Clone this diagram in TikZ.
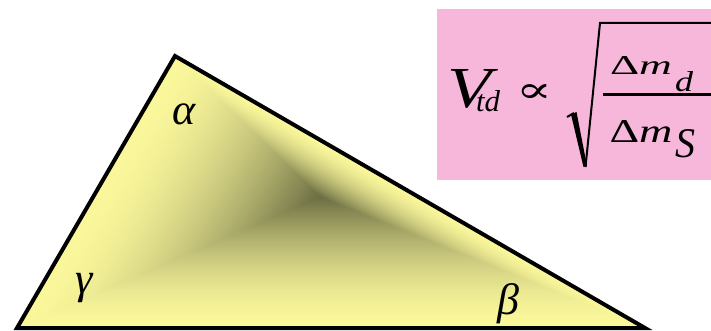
\documentclass[tikz,border=0pt]{standalone}
\usepackage{fontspec}
\setmainfont{Liberation Serif}
\newfontfamily\propfont{DejaVu Serif}
\usepackage{graphicx}
\usetikzlibrary{calc}
\definecolor{triyellow}{RGB}{250,247,155}
\definecolor{triolive}{RGB}{106,108,66}
\definecolor{boxpink}{RGB}{247,183,218}

\begin{document}
\begin{tikzpicture}[
  x=1pt, y=1pt,
  edge/.style={draw=black, line width=4pt, line join=miter},
  greek/.style={inner sep=0pt, font=\fontsize{44}{44}\selectfont\itshape},
  eqpart/.style={inner sep=0pt, font=\itshape},
  rootline/.style={line width=2pt}
]
  \useasboundingbox (0,0) rectangle (711,330);

  % Triangle corners and the centre of the shading.
  \coordinate (alpha-vertex) at (175,274);
  \coordinate (beta-vertex) at (645,2);
  \coordinate (gamma-vertex) at (17,2);
  \coordinate (centre) at (320,133);

  % Path gradient: nested copies shrinking towards the centre.
  \foreach \i in {0,...,70}{
    \pgfmathsetmacro{\s}{1-\i/70}
    \pgfmathsetmacro{\p}{100*(\i/70)^1.7}
    \fill[triolive!\p!triyellow]
      ($(centre)!\s!(alpha-vertex)$) -- ($(centre)!\s!(beta-vertex)$)
      -- ($(centre)!\s!(gamma-vertex)$) -- cycle;
  }
  \draw[edge] (alpha-vertex) -- (beta-vertex) -- (gamma-vertex) -- cycle;

  \node[greek] (alpha) at (184,216) {α};
  \node[greek] (gamma) at (84,42) {γ};
  \node[greek] (beta) at (508,26) {β};

  % Formula box.
  \fill[boxpink] (437,150) rectangle (712,321);
  \node[eqpart] (vee) at (470,241) {\resizebox{44pt}{38pt}{V}};
  \node[eqpart] (vee-sub) at (488,229) {\resizebox{24pt}{21pt}{td}};
  \node[inner sep=0pt] (prop) at (534,236) {\resizebox{36pt}{18pt}{\propfont ∝}};
  \node[inner sep=0pt] (num) at (641,264.5) {\resizebox{62pt}{18pt}{Δ\textit{m}}};
  \node[eqpart] (num-sub) at (684,248) {\resizebox{18pt}{20pt}{d}};
  \node[inner sep=0pt] (den) at (641,199) {\resizebox{63pt}{22pt}{Δ\textit{m}}};
  \node[eqpart] (den-sub) at (685,186) {\resizebox{20pt}{28pt}{S}};

  % Radical sign and fraction bar.
  \draw[rootline] (567,213) -- (574,217);
  \fill (571,215.5) -- (576.5,218) -- (587,164) -- (583.5,163) -- cycle;
  \draw[rootline] (585.5,163) -- (600,307) -- (712,307);
  \draw[line width=3pt] (603,235.5) -- (712,235.5);
\end{tikzpicture}
\end{document}
